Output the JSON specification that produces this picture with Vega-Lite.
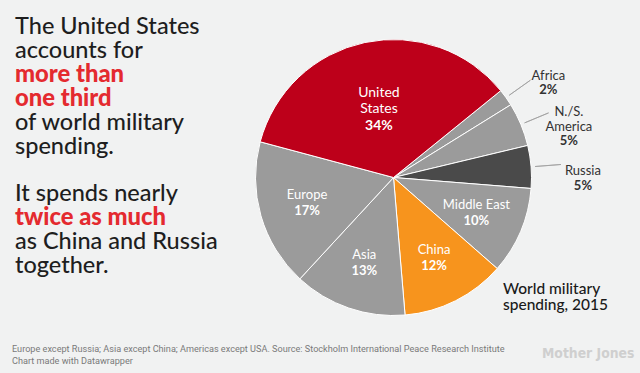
{
  "$schema": "https://vega.github.io/schema/vega-lite/v6.json",
  "width": 493,
  "height": 355,
  "autosize": {"type": "none"},
  "padding": {"left": 147, "top": 0, "right": 0, "bottom": 18},
  "background": "#f1f2f2",
  "config": {"view": {"stroke": null}, "font": "Lato"},
  "datasets": {
    "slices": [
      {"region": "Africa", "label": "Africa", "pct": "2%", "share": 2.0},
      {"region": "N./S. America", "label": "N./S.\nAmerica", "pct": "5%", "share": 5.1},
      {"region": "Russia", "label": "Russia", "pct": "5%", "share": 5.0},
      {"region": "Middle East", "label": "Middle East", "pct": "10%", "share": 10.2},
      {"region": "China", "label": "China", "pct": "12%", "share": 12.2},
      {"region": "Asia", "label": "Asia", "pct": "13%", "share": 13.2},
      {"region": "Europe", "label": "Europe", "pct": "17%", "share": 17.3},
      {"region": "United States", "label": "United\nStates", "pct": "34%", "share": 35.0}
    ],
    "notes": [
      {"line": 1, "text": "The United States", "emph": false},
      {"line": 2, "text": "accounts for", "emph": false},
      {"line": 3, "text": "more than", "emph": true},
      {"line": 4, "text": "one third", "emph": true},
      {"line": 5, "text": "of world military", "emph": false},
      {"line": 6, "text": "spending.", "emph": false},
      {"line": 8, "text": "It spends nearly", "emph": false},
      {"line": 9, "text": "twice as much", "emph": true},
      {"line": 10, "text": "as China and Russia", "emph": false},
      {"line": 11, "text": "together.", "emph": false}
    ]
  },
  "layer": [
    {
      "data": {"name": "slices"},
      "transform": [{"window": [{"op": "row_number", "as": "ord"}]}],
      "encoding": {
        "theta": {"field": "share", "type": "quantitative", "stack": true, "scale": {"range": [0.8901, 7.1733]}},
        "order": {"field": "ord", "type": "quantitative"}
      },
      "layer": [
        {
          "mark": {"type": "arc", "outerRadius": 138, "stroke": "#ffffff", "strokeWidth": 1},
          "encoding": {
            "color": {
              "field": "region", "type": "nominal", "legend": null,
              "scale": {
                "domain": ["Africa", "N./S. America", "Russia", "Middle East", "China", "Asia", "Europe", "United States"],
                "range": ["#9b9b9b", "#9b9b9b", "#4a4a4a", "#9b9b9b", "#f7941d", "#9b9b9b", "#9b9b9b", "#bd001a"]
              }
            }
          }
        },
        {
          "mark": {"type": "arc", "innerRadius": 142, "outerRadius": 168, "padAngle": 2, "fill": null, "stroke": "#a0a0a0", "strokeWidth": 0.8},
          "encoding": {
            "strokeOpacity": {"condition": {"test": "datum.share < 10", "value": 1}, "value": 0}
          }
        },
        {
          "mark": {"type": "text", "fontSize": 13, "color": "#ffffff", "baseline": "middle", "align": "center", "dy": -7.5},
          "encoding": {
            "radius": {"value": 90},
            "text": {"condition": {"test": "datum.share >= 10 && datum.region !== 'United States'", "field": "label"}, "value": ""}
          }
        },
        {
          "mark": {"type": "text", "fontSize": 13, "fontWeight": "bold", "color": "#ffffff", "baseline": "middle", "align": "center", "dy": 8},
          "encoding": {
            "radius": {"value": 90},
            "text": {"condition": {"test": "datum.share >= 10 && datum.region !== 'United States'", "field": "pct"}, "value": ""}
          }
        },
        {
          "mark": {"type": "text", "fontSize": 14, "color": "#ffffff", "baseline": "middle", "align": "center", "lineBreak": "\n", "lineHeight": 16.5, "dy": -16.5},
          "encoding": {
            "radius": {"value": 70},
            "text": {"condition": {"test": "datum.region === 'United States'", "field": "label"}, "value": ""}
          }
        },
        {
          "mark": {"type": "text", "fontSize": 14, "fontWeight": "bold", "color": "#ffffff", "baseline": "middle", "align": "center", "dy": 16.5},
          "encoding": {
            "radius": {"value": 70},
            "text": {"condition": {"test": "datum.region === 'United States'", "field": "pct"}, "value": ""}
          }
        },
        {
          "mark": {"type": "text", "fontSize": 13, "color": "#333333", "baseline": "bottom", "align": "center", "dy": 15.5},
          "encoding": {
            "radius": {"value": 190},
            "text": {"condition": {"test": "datum.share < 10 && datum.region !== 'N./S. America'", "field": "label"}, "value": ""}
          }
        },
        {
          "mark": {"type": "text", "fontSize": 13, "fontWeight": "bold", "color": "#333333", "baseline": "top", "align": "center", "dy": 17},
          "encoding": {
            "radius": {"value": 190},
            "text": {"condition": {"test": "datum.share < 10 && datum.region !== 'N./S. America'", "field": "pct"}, "value": ""}
          }
        },
        {
          "mark": {"type": "text", "fontSize": 13, "color": "#333333", "baseline": "middle", "align": "center", "lineBreak": "\n", "lineHeight": 15, "dy": 8},
          "encoding": {
            "radius": {"value": 190},
            "text": {"condition": {"test": "datum.region === 'N./S. America'", "field": "label"}, "value": ""}
          }
        },
        {
          "mark": {"type": "text", "fontSize": 13, "fontWeight": "bold", "color": "#333333", "baseline": "middle", "align": "center", "dy": 37},
          "encoding": {
            "radius": {"value": 190},
            "text": {"condition": {"test": "datum.region === 'N./S. America'", "field": "pct"}, "value": ""}
          }
        }
      ]
    },
    {
      "data": {"name": "notes"},
      "encoding": {
        "y": {"field": "line", "type": "ordinal", "axis": null,
              "scale": {"type": "point", "domain": [1, 2, 3, 4, 5, 6, 7, 8, 9, 10, 11], "range": [34.3, 273], "padding": 0}},
        "x": {"value": -132},
        "text": {"field": "text"}
      },
      "layer": [
        {
          "transform": [{"filter": "!datum.emph"}],
          "mark": {"type": "text", "align": "left", "baseline": "alphabetic", "fontSize": 23.5, "fontWeight": 500, "color": "#1e1e1e"}
        },
        {
          "transform": [{"filter": "datum.emph"}],
          "mark": {"type": "text", "align": "left", "baseline": "alphabetic", "fontSize": 23.8, "fontWeight": 900, "color": "#e42a2f"}
        }
      ]
    },
    {
      "data": {"values": [{}]},
      "mark": {"type": "text", "align": "left", "baseline": "middle", "fontSize": 15.5, "fontWeight": 500, "color": "#1a1a1a", "lineBreak": "\n", "lineHeight": 16},
      "encoding": {"x": {"value": 356}, "y": {"value": 289}, "text": {"value": "World military\nspending, 2015"}}
    },
    {
      "data": {"values": [{}]},
      "mark": {"type": "text", "align": "left", "baseline": "middle", "fontSize": 9.15, "font": "Roboto", "color": "#7a7a7a", "lineBreak": "\n", "lineHeight": 12},
      "encoding": {"x": {"value": -135}, "y": {"value": 349}, "text": {"value": "Europe except Russia; Asia except China; Americas except USA. Source: Stockholm International Peace Research Institute\nChart made with Datawrapper"}}
    },
    {
      "data": {"values": [{}]},
      "mark": {"type": "text", "align": "left", "baseline": "middle", "fontSize": 13.8, "fontWeight": "bold", "font": "Liberation Sans Narrow, DejaVu Sans Condensed, sans-serif", "color": "#cfcfcf"},
      "encoding": {"x": {"value": 395}, "y": {"value": 354}, "text": {"value": "Mother Jones"}}
    }
  ]
}
